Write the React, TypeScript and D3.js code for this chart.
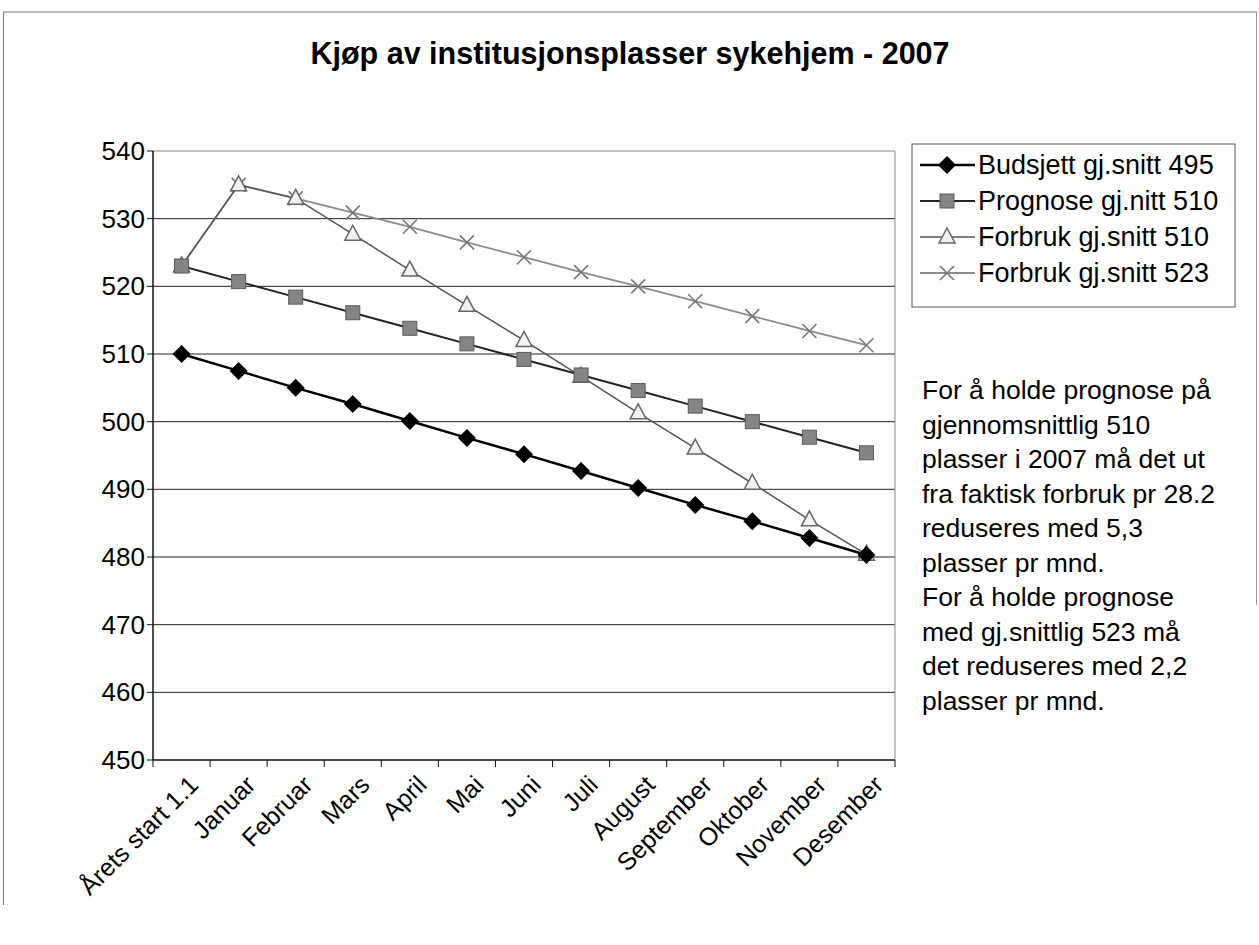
import React, { useEffect, useRef } from "react";
import * as d3 from "d3";

const months = ["Årets start 1.1", "Januar", "Februar", "Mars", "April", "Mai", "Juni", "Juli", "August", "September", "Oktober", "November", "Desember"];
const budsjett = [510, 507.5, 505, 502.6, 500.1, 497.6, 495.2, 492.7, 490.2, 487.7, 485.3, 482.8, 480.3];
const prognose = [523, 520.7, 518.4, 516.1, 513.8, 511.5, 509.2, 506.9, 504.6, 502.3, 500, 497.7, 495.4];
const forbruk510 = [523, 535, 533, 527.7, 522.4, 517.2, 512, 506.7, 501.3, 496.1, 490.9, 485.5, 480.4];
const forbruk523 = [523, 535, 533, 530.9, 528.8, 526.5, 524.3, 522.1, 520, 517.8, 515.6, 513.4, 511.3];
const yTicks = [450, 460, 470, 480, 490, 500, 510, 520, 530, 540];
const legendNames = ["Budsjett gj.snitt 495", "Prognose gj.nitt 510", "Forbruk gj.snitt 510", "Forbruk gj.snitt 523"];
const noteLines = [
    "For å holde prognose på",
    "gjennomsnittlig 510",
    "plasser i 2007 må det ut",
    "fra faktisk forbruk pr 28.2",
    "reduseres med 5,3",
    "plasser pr mnd.",
    "For å holde prognose",
    "med gj.snittlig 523 må",
    "det reduseres med 2,2",
    "plasser pr mnd.",
];

const FONT = "'Liberation Sans', Arial, sans-serif";

export default function App() {
    const ref = useRef<SVGSVGElement>(null);

    useEffect(() => {
        const svg = d3.select(ref.current);
        svg.selectAll("*").remove();

        const left = 153, right = 895, top = 151, bottom = 760;

        // page frame (scanned document border)
        svg.append("line").attr("x1", 3).attr("x2", 1257).attr("y1", 12).attr("y2", 12).attr("stroke", "#777");
        svg.append("line").attr("x1", 3.5).attr("x2", 3.5).attr("y1", 12).attr("y2", 905).attr("stroke", "#777");
        svg.append("line").attr("x1", 1256.5).attr("x2", 1256.5).attr("y1", 12).attr("y2", 605).attr("stroke", "#999");

        svg.append("text")
            .attr("x", 630).attr("y", 56)
            .attr("text-anchor", "middle").attr("dominant-baseline", "middle")
            .style("font-family", FONT).style("font-size", "30.5px").style("font-weight", "bold")
            .text("Kjøp av institusjonsplasser sykehjem - 2007");

        const x = d3.scalePoint<string>().domain(months).range([left, right]).padding(0.5);
        const band = (right - left) / months.length;
        const y = d3.scaleLinear().domain([450, 540]).range([bottom, top]);

        // grid lines
        svg.append("g").selectAll("line").data(yTicks.filter(d => d > 450 && d < 540)).join("line")
            .attr("x1", left).attr("x2", right)
            .attr("y1", d => y(d)).attr("y2", d => y(d))
            .attr("stroke", "#222").attr("stroke-width", 1);

        // plot frame top/right
        svg.append("line").attr("x1", left).attr("x2", right).attr("y1", top).attr("y2", top).attr("stroke", "#888");
        svg.append("line").attr("x1", right).attr("x2", right).attr("y1", top).attr("y2", bottom).attr("stroke", "#888");

        // y axis
        svg.append("line").attr("x1", left).attr("x2", left).attr("y1", top).attr("y2", bottom).attr("stroke", "#111").attr("stroke-width", 1.5);
        svg.append("g").selectAll("line").data(yTicks).join("line")
            .attr("x1", left - 6).attr("x2", left)
            .attr("y1", d => y(d)).attr("y2", d => y(d))
            .attr("stroke", "#111");
        svg.append("g").selectAll("text").data(yTicks).join("text")
            .attr("x", left - 8).attr("y", d => y(d))
            .attr("text-anchor", "end").attr("dy", "0.35em")
            .style("font-family", FONT).style("font-size", "26px")
            .text(d => d);

        // x axis
        svg.append("line").attr("x1", left).attr("x2", right).attr("y1", bottom).attr("y2", bottom).attr("stroke", "#111").attr("stroke-width", 1.5);
        const bounds = d3.range(months.length + 1).map(i => left + i * band);
        svg.append("g").selectAll("line").data(bounds).join("line")
            .attr("x1", d => d).attr("x2", d => d)
            .attr("y1", bottom).attr("y2", bottom + 7)
            .attr("stroke", "#111");
        svg.append("g").selectAll("text").data(months).join("text")
            .attr("transform", d => `translate(${(x(d) as number) + 6},${bottom + 14}) rotate(-45)`)
            .attr("text-anchor", "end").attr("dy", "0.7em")
            .style("font-family", FONT).style("font-size", "25px")
            .text(d => d);

        const series = [
            { name: legendNames[0], values: budsjett, line: "#000", width: 2.5, marker: "diamond" },
            { name: legendNames[1], values: prognose, line: "#222", width: 2, marker: "square" },
            { name: legendNames[2], values: forbruk510, line: "#555", width: 1.5, marker: "triangle" },
            { name: legendNames[3], values: forbruk523, line: "#8c8c8c", width: 1.8, marker: "cross" },
        ];

        const drawMarker = (g: any, type: string, cx: number, cy: number) => {
            if (type === "diamond") {
                g.append("path").attr("d", `M${cx},${cy - 9}L${cx + 9},${cy}L${cx},${cy + 9}L${cx - 9},${cy}Z`)
                    .attr("fill", "#000");
            } else if (type === "square") {
                g.append("rect").attr("x", cx - 7).attr("y", cy - 7).attr("width", 14).attr("height", 14)
                    .attr("fill", "#858585").attr("stroke", "#5a5a5a").attr("stroke-width", 1);
            } else if (type === "triangle") {
                g.append("path").attr("d", `M${cx},${cy - 9}L${cx + 8},${cy + 6}L${cx - 8},${cy + 6}Z`)
                    .attr("fill", "#f2f2f2").attr("stroke", "#666").attr("stroke-width", 1.5);
            } else {
                g.append("path").attr("d", `M${cx - 7},${cy - 7}L${cx + 7},${cy + 7}M${cx + 7},${cy - 7}L${cx - 7},${cy + 7}`)
                    .attr("stroke", "#777").attr("stroke-width", 1.6);
            }
        };

        const line = d3.line<number>().x((d, i) => x(months[i]) as number).y(d => y(d));
        const plot = svg.append("g");
        // draw from back to front
        [...series].reverse().forEach(s => {
            plot.append("path").datum(s.values).attr("d", line)
                .attr("fill", "none").attr("stroke", s.line).attr("stroke-width", s.width);
        });
        [...series].reverse().forEach(s => {
            s.values.forEach((v, i) => drawMarker(plot, s.marker, x(months[i]) as number, y(v)));
        });

        // legend
        const lg = svg.append("g");
        lg.append("rect").attr("x", 912).attr("y", 144).attr("width", 323).attr("height", 163)
            .attr("fill", "#fff").attr("stroke", "#555").attr("stroke-width", 1);
        series.forEach((s, i) => {
            const cy = 165 + i * 36;
            lg.append("line").attr("x1", 920).attr("x2", 975).attr("y1", cy).attr("y2", cy)
                .attr("stroke", s.line).attr("stroke-width", s.width);
            drawMarker(lg, s.marker, 947, cy);
            lg.append("text").attr("x", 978).attr("y", cy).attr("dy", "0.35em")
                .style("font-family", FONT).style("font-size", "27px")
                .text(s.name);
        });

        // note
        svg.append("g").selectAll("text").data(noteLines).join("text")
            .attr("x", 922).attr("y", (d, i) => 390 + i * 34.5).attr("dy", "0.35em")
            .style("font-family", FONT).style("font-size", "26.5px")
            .text(d => d);
    }, []);

    return (
        <div style={{ position: "absolute", left: 0, top: 0 }}>
            <svg ref={ref} width={1259} height={945} style={{ display: "block", background: "#fff" }}></svg>
        </div>
    );
}
